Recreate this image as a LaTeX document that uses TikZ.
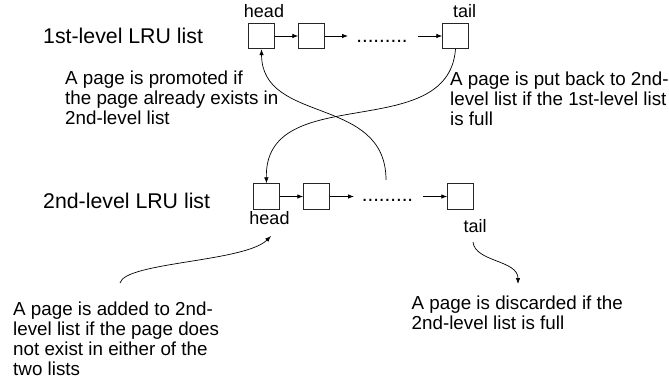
\documentclass[tikz,border=0pt]{standalone}
\usepackage{fontspec}
\setmainfont{Liberation Sans}
\usetikzlibrary{arrows.meta}
\begin{document}
\begin{tikzpicture}[x=1pt,y=-1pt,
  cell/.style={draw=black!85,line width=0.9pt,minimum width=25.5pt,minimum height=25.5pt,inner sep=0pt},
  link/.style={line width=0.8pt,-{Latex[length=6pt,width=4.5pt]}},
  flow/.style={line width=0.7pt,-{Latex[length=6pt,width=4.5pt]}},
  listname/.style={font=\fontsize{21.3}{24}\selectfont,anchor=base west,inner sep=0pt},
  % multi-line notes are placed by the baseline of their last line
  note/.style={font=\fontsize{18.8}{20}\selectfont,anchor=base west,align=left,inner sep=0pt},
  endname/.style={font=\fontsize{18}{20}\selectfont,anchor=base,inner sep=0pt},
  ellipsis/.style={font=\fontsize{20.5}{22}\selectfont,inner sep=0pt,anchor=base}
]
\useasboundingbox (0,0) rectangle (669,382);

% first-level list
\node[listname] (l1) at (43,44) {1st-level LRU list};
\node[cell] (a1) at (261.5,36) {};
\node[cell] (a2) at (311.5,36) {};
\node[cell] (at) at (455.5,36) {};
\node[endname] (ah) at (264,18) {head};
\node[endname] (atl) at (464.5,18) {tail};
\node[ellipsis] (ad) at (382,42.5) {.........};
\coordinate (ae) at (348,36);
\coordinate (as) at (418,36);
\draw[link] (a1) -- (a2);
\draw[link] (a2) -- (ae);
\draw[link] (as) -- (at);

% second-level list
\node[listname] (l2) at (43,208.5) {2nd-level LRU list};
\node[cell] (b1) at (266.5,196.5) {};
\node[cell] (b2) at (316.5,196.5) {};
\node[cell] (bt) at (460.5,196.5) {};
\node[endname] (bh) at (269.5,225) {head};
\node[endname] (btl) at (475,233) {tail};
\node[ellipsis] (bd) at (387.5,202) {.........};
\coordinate (be) at (354,196.5);
\coordinate (bs) at (423,196.5);
\draw[link] (b1) -- (b2);
\draw[link] (b2) -- (be);
\draw[link] (bs) -- (bt);

% explanations
\node[note] (n1) at (65,125) {A page is promoted if\\the page already exists in\\2nd-level list};
\node[note] (n2) at (450,126) {A page is put back to 2nd-\\level list if the 1st-level list\\is full};
\node[note] (n3) at (13,375) {A page is added to 2nd-\\level list if the page does\\not exist in either of the\\two lists};
\node[note] (n4) at (411.5,329) {A page is discarded if the\\2nd-level list is full};

% page movements
\coordinate (ps) at (386,180);
\draw[flow] (ps) .. controls (386,95) and (262,125) .. (a1.south);
\draw[flow] (at.south) .. controls (448,145) and (264,80) .. (b1.north);
\coordinate (adds) at (120,283);
\coordinate (addt) at (271,236);
\draw[flow] (adds) .. controls (125,262) and (245,262) .. (addt);
\coordinate (dss) at (473,242);
\coordinate (dse) at (518,284);
\draw[flow] (dss) .. controls (475,262) and (518,260) .. (dse);
\end{tikzpicture}
\end{document}
